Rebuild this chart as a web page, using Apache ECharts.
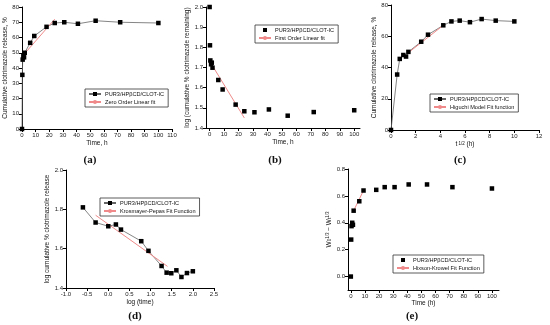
<!DOCTYPE html>
<html><head><meta charset="utf-8">
<script src="https://cdn.jsdelivr.net/npm/echarts@6/dist/echarts.min.js"></script>
<style>html,body{margin:0;padding:0;background:#fff}#c{width:550px;height:325px}</style>
</head><body><div id="c"></div>
<script>
// ---- data ----
const timeH        = [0,0.25,0.5,1,1.5,2,6,9,18,24,31,41,54,72,100];
const releasePct   = [0,35.5,45.5,48,47,50,56.5,61,67,69.5,70,69,71,70,69.5];
const zeroOrderX   = [1,24];
const zeroOrderY   = [48.5,72];
const logRemaining = [2.0,1.81,1.735,1.716,1.724,1.699,1.638,1.591,1.516,1.483,1.478,1.492,1.461,1.479,1.488];
const firstOrderX  = [1,24];
const firstOrderY  = [1.72,1.45];
const sqrtTime     = [0,0.5,0.71,1,1.22,1.41,2.45,3,4.24,4.9,5.57,6.4,7.35,8.49,10];
const higuchiX     = [1.41,4.24];
const higuchiY     = [49.5,67];
const logTime      = [-0.6,-0.3,0,0.18,0.3,0.78,0.95,1.26,1.38,1.49,1.61,1.73,1.86,2.0];
const logRelease   = [1.81,1.733,1.714,1.723,1.697,1.638,1.589,1.512,1.478,1.475,1.49,1.456,1.476,1.485];
const kpX          = [-0.3,1.4];
const kpY          = [1.77,1.51];
const hixsonY      = [0,0.275,0.375,0.40,0.385,0.49,0.56,0.64,0.645,0.665,0.665,0.685,0.685,0.665,0.655];
const hixsonX      = [2,9];
const hixsonFitY   = [0.49,0.64];
const timeTicks    = [0,10,20,30,40,50,60,70,80,90,100];
const hixsonTicks  = [0,0.2,0.4,0.6,0.8];
const sampleName   = 'PUR3/HPβCD/CLOT-IC';
const fitNames     = ['Zero Order Linear fit','First Order Linear fit','Higuchi Model Fit function','Krosmayer-Pepas Fit Function','Hixson-Krowel Fit Function'];
const panelTags    = ['(a)','(b)','(c)','(d)','(e)'];

const zip = (xs, ys) => xs.map((x, i) => [x, ys[i]]);
const FONT = 'Liberation Sans, Arial, sans-serif';
const lab = {fontSize: 6, color: '#222', fontFamily: FONT, margin: 3};
const axLine = {lineStyle: {color: '#000', width: 1}};
const tick = {show: true, inside: false, length: 3, lineStyle: {color: '#000'}};

function xAxis(gi, o) {
  return Object.assign({type: 'value', gridIndex: gi, splitLine: {show: false},
    axisLine: Object.assign({onZero: false}, axLine), axisTick: tick,
    axisLabel: Object.assign({}, lab), nameLocation: 'middle',
    nameTextStyle: {fontSize: 6.5, fontFamily: FONT, color: '#111'}}, o);
}
function yAxis(gi, o) { return xAxis(gi, o); }

const chart = echarts.init(document.getElementById('c'), null, {renderer: 'canvas'});
const dataLine = {type: 'line', symbol: 'rect', symbolSize: 4.5, itemStyle: {color: '#000'},
  lineStyle: {color: '#666', width: 0.8}, showSymbol: true};
const dataScatter = {type: 'line', symbol: 'rect', symbolSize: 4.5, itemStyle: {color: '#000'},
  lineStyle: {color: '#000', width: 0, opacity: 0}, showSymbol: true};
const fitLine = {type: 'line', symbol: 'none', showSymbol: false, lineStyle: {color: '#f08a8a', width: 1}, itemStyle: {color: '#f08a8a'}};

const labelMap = {};
['a','b','c','d','e'].forEach((k, i) => { labelMap[k + '_data'] = sampleName; labelMap[k + '_fit'] = fitNames[i]; });

function legend(k, left, top) {
  return {left, top, orient: 'vertical', data: [k + '_data', k + '_fit'],
    formatter: n => labelMap[n], itemWidth: 12, itemHeight: 5, itemGap: 2,
    padding: [2, 4, 2, 3], borderColor: '#333', borderWidth: 0.8,
    textStyle: {fontSize: 5.6, fontFamily: FONT, color: '#111', padding: [0, 0, 0, -1]}, selectedMode: false};
}

const option = {
  animation: false,
  backgroundColor: '#fff',
  grid: [
    {left: 22, top: 7, width: 150, height: 122},
    {left: 206, top: 7, width: 154, height: 121},
    {left: 391, top: 5, width: 148, height: 125},
    {left: 66, top: 170, width: 148, height: 118},
    {left: 348, top: 169, width: 151, height: 121}
  ],
  xAxis: [
    xAxis(0, {min: 0, max: 110, interval: 10, name: 'Time, h', nameGap: 11}),
    xAxis(1, {min: -2.5, max: 104, name: 'Time, h', nameGap: 11,
      axisLabel: Object.assign({customValues: timeTicks}, lab),
      axisTick: Object.assign({customValues: timeTicks}, tick)}),
    xAxis(2, {min: 0, max: 12, interval: 2, nameGap: 11,
      name: '{a|t}{p| 1/2}{a| (h)}',
      nameTextStyle: {rich: {a: {fontSize: 6.5, fontFamily: FONT, color: '#111'},
        p: {fontSize: 4.5, fontFamily: FONT, color: '#111', verticalAlign: 'top'}}}}),
    xAxis(3, {min: -1, max: 2.5, interval: 0.5, name: 'log (time)', nameGap: 11,
      axisLabel: Object.assign({formatter: v => v.toFixed(1)}, lab)}),
    xAxis(4, {min: -2, max: 105, name: 'Time (h)', nameGap: 10,
      axisLabel: Object.assign({customValues: timeTicks}, lab),
      axisTick: Object.assign({customValues: timeTicks}, tick)})
  ],
  yAxis: [
    yAxis(0, {min: 0, max: 80, interval: 10, name: 'Cumulative clotrimazole release, %', nameGap: 11}),
    yAxis(1, {min: 1.4, max: 2.0, interval: 0.1, name: 'log (cumulative % clotrimazole remaining)', nameGap: 13,
      axisLabel: Object.assign({formatter: v => v.toFixed(1)}, lab)}),
    yAxis(2, {min: 0, max: 80, interval: 20, name: 'Cumulative clotrimazole release, %', nameGap: 10}),
    yAxis(3, {min: 1.4, max: 2.0, interval: 0.2, name: 'log cumulative % clotrimazole release', nameGap: 9,
      axisLabel: Object.assign({formatter: v => v.toFixed(1)}, lab)}),
    yAxis(4, {min: -0.1, max: 0.8, nameGap: 15,
      axisLabel: Object.assign({customValues: hixsonTicks, formatter: v => v.toFixed(1)}, lab),
      axisTick: Object.assign({customValues: hixsonTicks}, tick),
      name: '{a|W}{s|0}{p|1/3}{a| \u2212 W}{s|t}{p|1/3}',
      nameTextStyle: {rich: {a: {fontSize: 6.5, fontFamily: FONT, color: '#111'},
        s: {fontSize: 4.5, fontFamily: FONT, color: '#111', verticalAlign: 'bottom'},
        p: {fontSize: 4.5, fontFamily: FONT, color: '#111', verticalAlign: 'top'}}}})
  ],
  legend: [legend('a', 85, 89), legend('b', 255, 25), legend('c', 430, 94), legend('d', 100, 198), legend('e', 393, 255)],
  series: [
    Object.assign({name: 'a_data', xAxisIndex: 0, yAxisIndex: 0, data: zip(timeH, releasePct)}, dataLine),
    Object.assign({name: 'a_fit', xAxisIndex: 0, yAxisIndex: 0, data: zip(zeroOrderX, zeroOrderY)}, fitLine),
    Object.assign({name: 'b_data', xAxisIndex: 1, yAxisIndex: 1, data: zip(timeH, logRemaining)}, dataScatter),
    Object.assign({name: 'b_fit', xAxisIndex: 1, yAxisIndex: 1, data: zip(firstOrderX, firstOrderY)}, fitLine),
    Object.assign({name: 'c_data', xAxisIndex: 2, yAxisIndex: 2, data: zip(sqrtTime, releasePct)}, dataLine),
    Object.assign({name: 'c_fit', xAxisIndex: 2, yAxisIndex: 2, data: zip(higuchiX, higuchiY)}, fitLine),
    Object.assign({name: 'd_data', xAxisIndex: 3, yAxisIndex: 3, data: zip(logTime, logRelease)}, dataLine),
    Object.assign({name: 'd_fit', xAxisIndex: 3, yAxisIndex: 3, data: zip(kpX, kpY)}, fitLine),
    Object.assign({name: 'e_data', xAxisIndex: 4, yAxisIndex: 4, data: zip(timeH, hixsonY)}, dataScatter),
    Object.assign({name: 'e_fit', xAxisIndex: 4, yAxisIndex: 4, data: zip(hixsonX, hixsonFitY)}, fitLine)
  ],
  graphic: [[90,160],[275,160],[460,160],[135,316],[412,316]].map((p, i) => ({
    type: 'text', x: p[0], y: p[1],
    style: {text: panelTags[i], font: 'bold 11px "Liberation Serif", "DejaVu Serif", serif',
      fill: '#111', align: 'center', verticalAlign: 'middle'}
  }))
};
chart.setOption(option);
</script>
</body></html>
